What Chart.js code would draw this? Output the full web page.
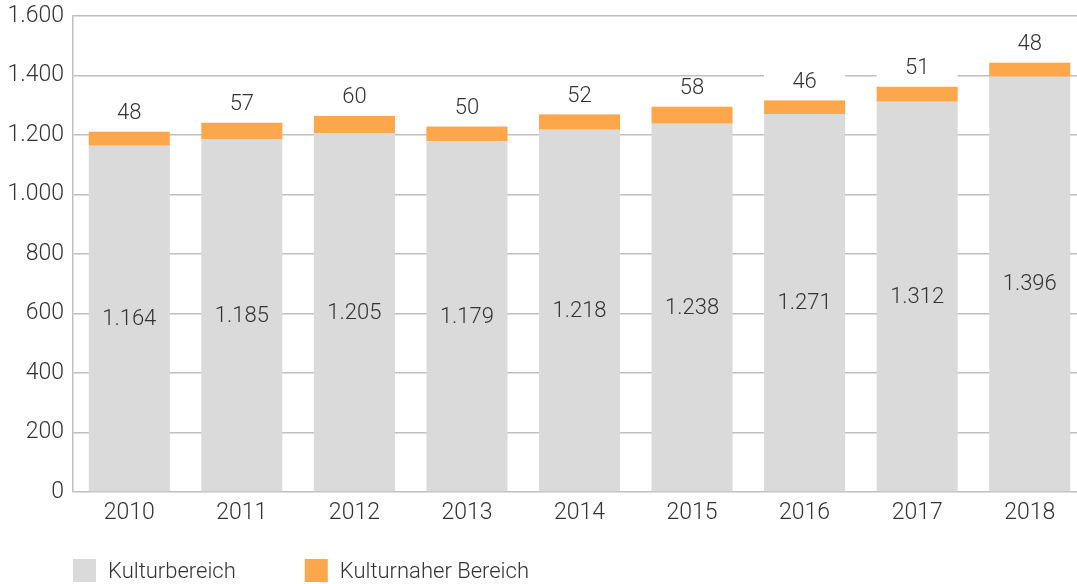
<!DOCTYPE html>
<html>
<head>
<meta charset="utf-8">
<script src="https://cdn.jsdelivr.net/npm/chart.js@4/dist/chart.umd.min.js"></script>
<style>
  html, body { margin: 0; padding: 0; background: #fff; overflow: hidden; }
  #wrap { width: 1086px; height: 584px; }
</style>
</head>
<body>
<div id="wrap"><canvas id="chart1" width="1086" height="584"></canvas></div>
<script>
// Daten
const years = ['2010', '2011', '2012', '2013', '2014', '2015', '2016', '2017', '2018'];
const kulturbereich = [1164, 1185, 1205, 1179, 1218, 1238, 1271, 1312, 1396];
const kulturnah = [48, 57, 60, 50, 52, 58, 46, 51, 48];
const seriesNames = ['Kulturbereich', 'Kulturnaher Bereich'];
const seriesColors = ['#dadada', '#fca74b'];

const FONT = 'Roboto';
const textColor = '#333333';
const gridColor = '#c0c0c0';

// Zahlen im deutschen Format (1.600)
const fmt = (v) => String(v).replace(/\B(?=(\d{3})+(?!\d))/g, '.');

// Beschriftungen in und ueber den Balken
const barLabels = {
  id: 'barLabels',
  afterDatasetsDraw(chart) {
    const ctx = chart.ctx;
    const metaA = chart.getDatasetMeta(0);
    const metaB = chart.getDatasetMeta(1);
    ctx.save();
    ctx.font = '300 22px ' + FONT;
    ctx.fillStyle = textColor;
    ctx.textAlign = 'center';
    ctx.textBaseline = 'middle';
    metaA.data.forEach((bar, i) => {
      ctx.fillText(fmt(kulturbereich[i]), bar.x, (bar.y + bar.base) / 2 + 1);
    });
    metaB.data.forEach((bar, i) => {
      const cy = bar.y - 18;
      // weisser Hintergrund hinter der Zahl (verdeckt Gitterlinien)
      ctx.fillStyle = '#ffffff';
      ctx.fillRect(bar.x - bar.width / 2, cy - 10, bar.width, bar.y - (cy - 10));
      ctx.fillStyle = textColor;
      ctx.fillText(fmt(kulturnah[i]), bar.x, cy);
    });
    ctx.restore();
  }
};

// Legende unten links
const bottomLegend = {
  id: 'bottomLegend',
  afterDraw(chart) {
    const ctx = chart.ctx;
    const box = 23;
    let x = chart.chartArea.left;
    const top = 559;
    ctx.save();
    ctx.font = '300 22px ' + FONT;
    ctx.textBaseline = 'middle';
    ctx.textAlign = 'left';
    chart.data.datasets.forEach((ds) => {
      ctx.fillStyle = ds.backgroundColor;
      ctx.fillRect(x, top, box, box);
      ctx.fillStyle = textColor;
      ctx.fillText(ds.label, x + box + 12, top + box / 2 + 2);
      x += box + 12 + ctx.measureText(ds.label).width + 69;
    });
    ctx.restore();
  }
};

const ctx = document.getElementById('chart1').getContext('2d');
new Chart(ctx, {
  type: 'bar',
  data: {
    labels: years,
    datasets: [
      { label: seriesNames[0], data: kulturbereich, backgroundColor: seriesColors[0] },
      { label: seriesNames[1], data: kulturnah, backgroundColor: seriesColors[1] }
    ]
  },
  options: {
    responsive: false,
    animation: false,
    layout: { padding: { top: 16, left: 0, right: 0, bottom: 0 } },
    datasets: {
      bar: { categoryPercentage: 1, barPercentage: 0.72, borderWidth: 0 }
    },
    scales: {
      x: {
        stacked: true,
        grid: { display: false },
        border: { display: false },
        ticks: {
          color: textColor,
          font: { family: FONT, size: 23, weight: '300' },
          padding: -1,
          maxRotation: 0
        },
        afterFit(scale) { scale.height = 92; }
      },
      y: {
        stacked: true,
        min: 0,
        max: 1600,
        grid: { color: gridColor, lineWidth: 1.5, drawTicks: false },
        border: { display: true, color: gridColor, width: 1.5 },
        ticks: {
          stepSize: 200,
          color: textColor,
          font: { family: FONT, size: 23, weight: '300' },
          padding: 9,
          callback: (v) => fmt(v)
        },
        afterFit(scale) {
          scale.width = 73;
          scale.paddingTop = 0;
          scale.paddingBottom = 0;
        }
      }
    },
    plugins: {
      legend: { display: false },
      tooltip: { enabled: false }
    }
  },
  plugins: [barLabels, bottomLegend]
});
</script>
</body>
</html>
